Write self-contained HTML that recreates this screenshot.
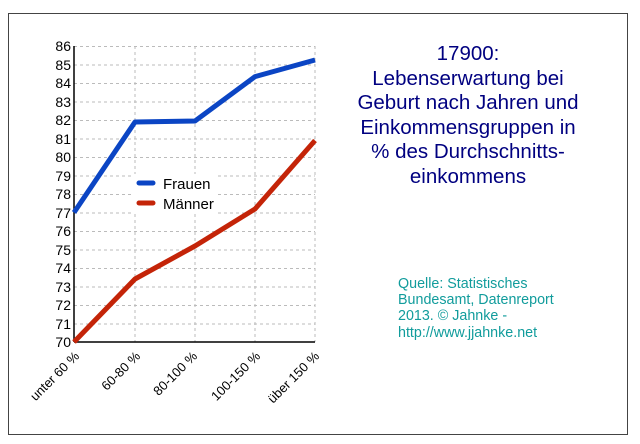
<!DOCTYPE html>
<html><head><meta charset="utf-8"><style>
body{margin:0;background:#fff;}
svg{display:block;font-family:"Liberation Sans",Arial,sans-serif;}
</style></head><body>
<svg width="640" height="444" viewBox="0 0 640 444">
<rect x="0" y="0" width="640" height="444" fill="#fff"/>
<rect x="8.5" y="13.5" width="619" height="421" fill="#fff" stroke="#444" stroke-width="1"/>
<g stroke="#bbb" stroke-dasharray="3,3" stroke-width="1">
<line x1="74" x2="315" y1="46.5" y2="46.5"/><line x1="74" x2="315" y1="65" y2="65"/><line x1="74" x2="315" y1="83.5" y2="83.5"/><line x1="74" x2="315" y1="102" y2="102"/><line x1="74" x2="315" y1="120.5" y2="120.5"/><line x1="74" x2="315" y1="139" y2="139"/><line x1="74" x2="315" y1="157.5" y2="157.5"/><line x1="74" x2="315" y1="176" y2="176"/><line x1="74" x2="315" y1="194.5" y2="194.5"/><line x1="74" x2="315" y1="213" y2="213"/><line x1="74" x2="315" y1="231.5" y2="231.5"/><line x1="74" x2="315" y1="250" y2="250"/><line x1="74" x2="315" y1="268.5" y2="268.5"/><line x1="74" x2="315" y1="287" y2="287"/><line x1="74" x2="315" y1="305.5" y2="305.5"/><line x1="74" x2="315" y1="324" y2="324"/>
<line x1="135" x2="135" y1="46" y2="342"/><line x1="195" x2="195" y1="46" y2="342"/><line x1="255" x2="255" y1="46" y2="342"/><line x1="315" x2="315" y1="46" y2="342"/>
</g>
<line x1="74" y1="46" x2="74" y2="342" stroke="#000" stroke-width="1.5"/>
<line x1="74" y1="342" x2="315" y2="342" stroke="#000" stroke-width="1.5"/>
<g font-size="14" fill="#000" text-anchor="end">
<text x="71" y="51">86</text><text x="71" y="70">85</text><text x="71" y="88">84</text><text x="71" y="107">83</text><text x="71" y="125">82</text><text x="71" y="144">81</text><text x="71" y="162">80</text><text x="71" y="181">79</text><text x="71" y="199">78</text><text x="71" y="218">77</text><text x="71" y="236">76</text><text x="71" y="255">75</text><text x="71" y="273">74</text><text x="71" y="292">73</text><text x="71" y="310">72</text><text x="71" y="329">71</text><text x="71" y="347">70</text>
</g>
<g font-size="13" fill="#000" text-anchor="end">
<text transform="translate(80,357) rotate(-45)">unter 60 %</text>
<text transform="translate(141,357) rotate(-45)">60-80 %</text>
<text transform="translate(198,357) rotate(-45)">80-100 %</text>
<text transform="translate(261,357) rotate(-45)">100-150 %</text>
<text transform="translate(320,357) rotate(-45)">über 150 %</text>
</g>
<polyline points="74,212.5 135,122 195,121 255,76.6 315,60" fill="none" stroke="#0b45c4" stroke-width="5" stroke-linejoin="round"/>
<polyline points="74,342 135,279 195,246 255,209 315,140.5" fill="none" stroke="#c42408" stroke-width="5" stroke-linejoin="round"/>
<rect x="132" y="174" width="86" height="40" fill="#fff"/>
<line x1="139" y1="183" x2="153" y2="183" stroke="#0b45c4" stroke-width="5" stroke-linecap="round"/>
<line x1="139" y1="203" x2="153" y2="203" stroke="#c42408" stroke-width="5" stroke-linecap="round"/>
<text x="163" y="189" font-size="15">Frauen</text>
<text x="163" y="209" font-size="15">Männer</text>
<g font-size="20.5" fill="#000080" text-anchor="middle">
<text x="468" y="60">17900:</text>
<text x="468" y="85">Lebenserwartung bei</text>
<text x="468" y="109">Geburt nach Jahren und</text>
<text x="468" y="134">Einkommensgruppen in</text>
<text x="468" y="158">% des Durchschnitts-</text>
<text x="468" y="183">einkommens</text>
</g>
<g font-size="14.3" fill="#119c9c">
<text x="398" y="288">Quelle: Statistisches</text>
<text x="398" y="304">Bundesamt, Datenreport</text>
<text x="398" y="320">2013. © Jahnke -</text>
<text x="398" y="337">http://www.jjahnke.net</text>
</g>
</svg>
</body></html>
